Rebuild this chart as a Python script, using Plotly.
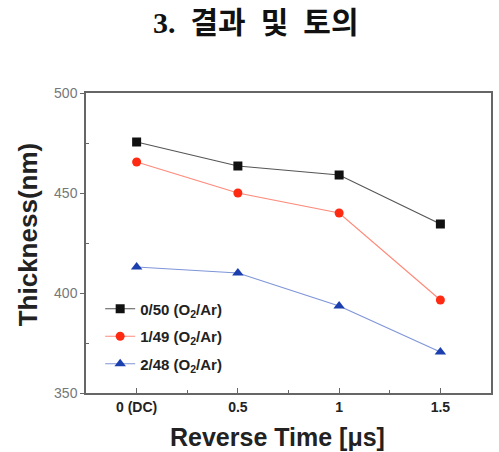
import plotly.graph_objects as go

x_vals = [0, 0.5, 1, 1.5]
tick_labels = ["0 (DC)", "0.5", "1", "1.5"]
s1_name = "0/50 (O<sub>2</sub>/Ar)"
s1 = [475.5, 463.5, 459, 434.5]
s2_name = "1/49 (O<sub>2</sub>/Ar)"
s2 = [465.5, 450, 440, 396.5]
s3_name = "2/48 (O<sub>2</sub>/Ar)"
s3 = [413, 410, 393.5, 370.5]

fig = go.Figure()
series = [
    (s1_name, s1, "#111111", "#555555", "square"),
    (s2_name, s2, "#ff2a12", "#ff8a7a", "circle"),
    (s3_name, s3, "#1b3fae", "#7f95d8", "triangle-up"),
]
for i, (name, ys, mc, lc, sym) in enumerate(series):
    fig.add_trace(go.Scatter(
        x=x_vals, y=ys, name=f"<b>{name}</b>", mode="lines+markers", legendgroup=f"g{i}",
        line=dict(color=lc, width=1.2),
        marker=dict(color=mc, symbol=sym, size=9 if sym != "triangle-up" else 10),
    ))

W, H = 499, 452
L, R, T, B = 86, 6, 93, 59
pw, ph = W - L - R, H - T - B

fig.update_layout(
    width=W, height=H,
    margin=dict(l=L, r=R, t=T, b=B),
    paper_bgcolor="white", plot_bgcolor="white",
    showlegend=True,
    legend=dict(x=0.035, y=0.335, xanchor="left", yanchor="top",
                bgcolor="rgba(0,0,0,0)", tracegroupgap=5,
                font=dict(family="Liberation Sans, Arial", size=15, color="#222"),
                itemwidth=30),
    font=dict(family="Liberation Sans, Arial"),
)
fig.add_annotation(
    text="<b>3.  결과  및  토의</b>", xref="paper", yref="paper",
    x=(257 - L) / pw, y=1 + (T - 22) / ph, xanchor="center", yanchor="middle",
    showarrow=False,
    font=dict(family="Liberation Serif, Noto Sans CJK KR", size=30, color="#111"),
)
fig.add_annotation(
    text="<b>Thickness(nm)</b>", xref="paper", yref="paper",
    x=-(L - 28) / pw, y=1 - (234 - T) / ph, xanchor="center", yanchor="middle",
    textangle=-90, showarrow=False,
    font=dict(family="Liberation Sans, Arial", size=26, color="#222"),
)
fig.add_annotation(
    text="<b>Reverse Time [μs]</b>", xref="paper", yref="paper",
    x=(278 - L) / pw, y=-(437 - (T + ph)) / ph, xanchor="center", yanchor="middle",
    showarrow=False,
    font=dict(family="Liberation Sans, Arial", size=25, color="#222"),
)
fig.update_xaxes(
    range=[-0.25, 1.75], tickvals=x_vals, ticktext=[f"<b>{t}</b>" for t in tick_labels],
    ticks="inside", ticklen=5, tickcolor="#666", showgrid=False, zeroline=False,
    showline=True, linecolor="#666", linewidth=1.5, mirror=True,
    minor=dict(tickvals=[0.25, 0.75, 1.25], ticks="inside", ticklen=3, tickcolor="#666"),
    tickfont=dict(size=14, color="#222"),
)
fig.update_yaxes(
    range=[350, 500], tickvals=[350, 400, 450, 500],
    ticks="outside", ticklen=4, tickcolor="#666", showgrid=False, zeroline=False,
    showline=True, linecolor="#666", linewidth=1.5, mirror=True,
    minor=dict(tickvals=[375, 425, 475], ticks="inside", ticklen=3, tickcolor="#666"),
    tickfont=dict(size=14, color="#777"),
)

fig.write_html("out.html")
